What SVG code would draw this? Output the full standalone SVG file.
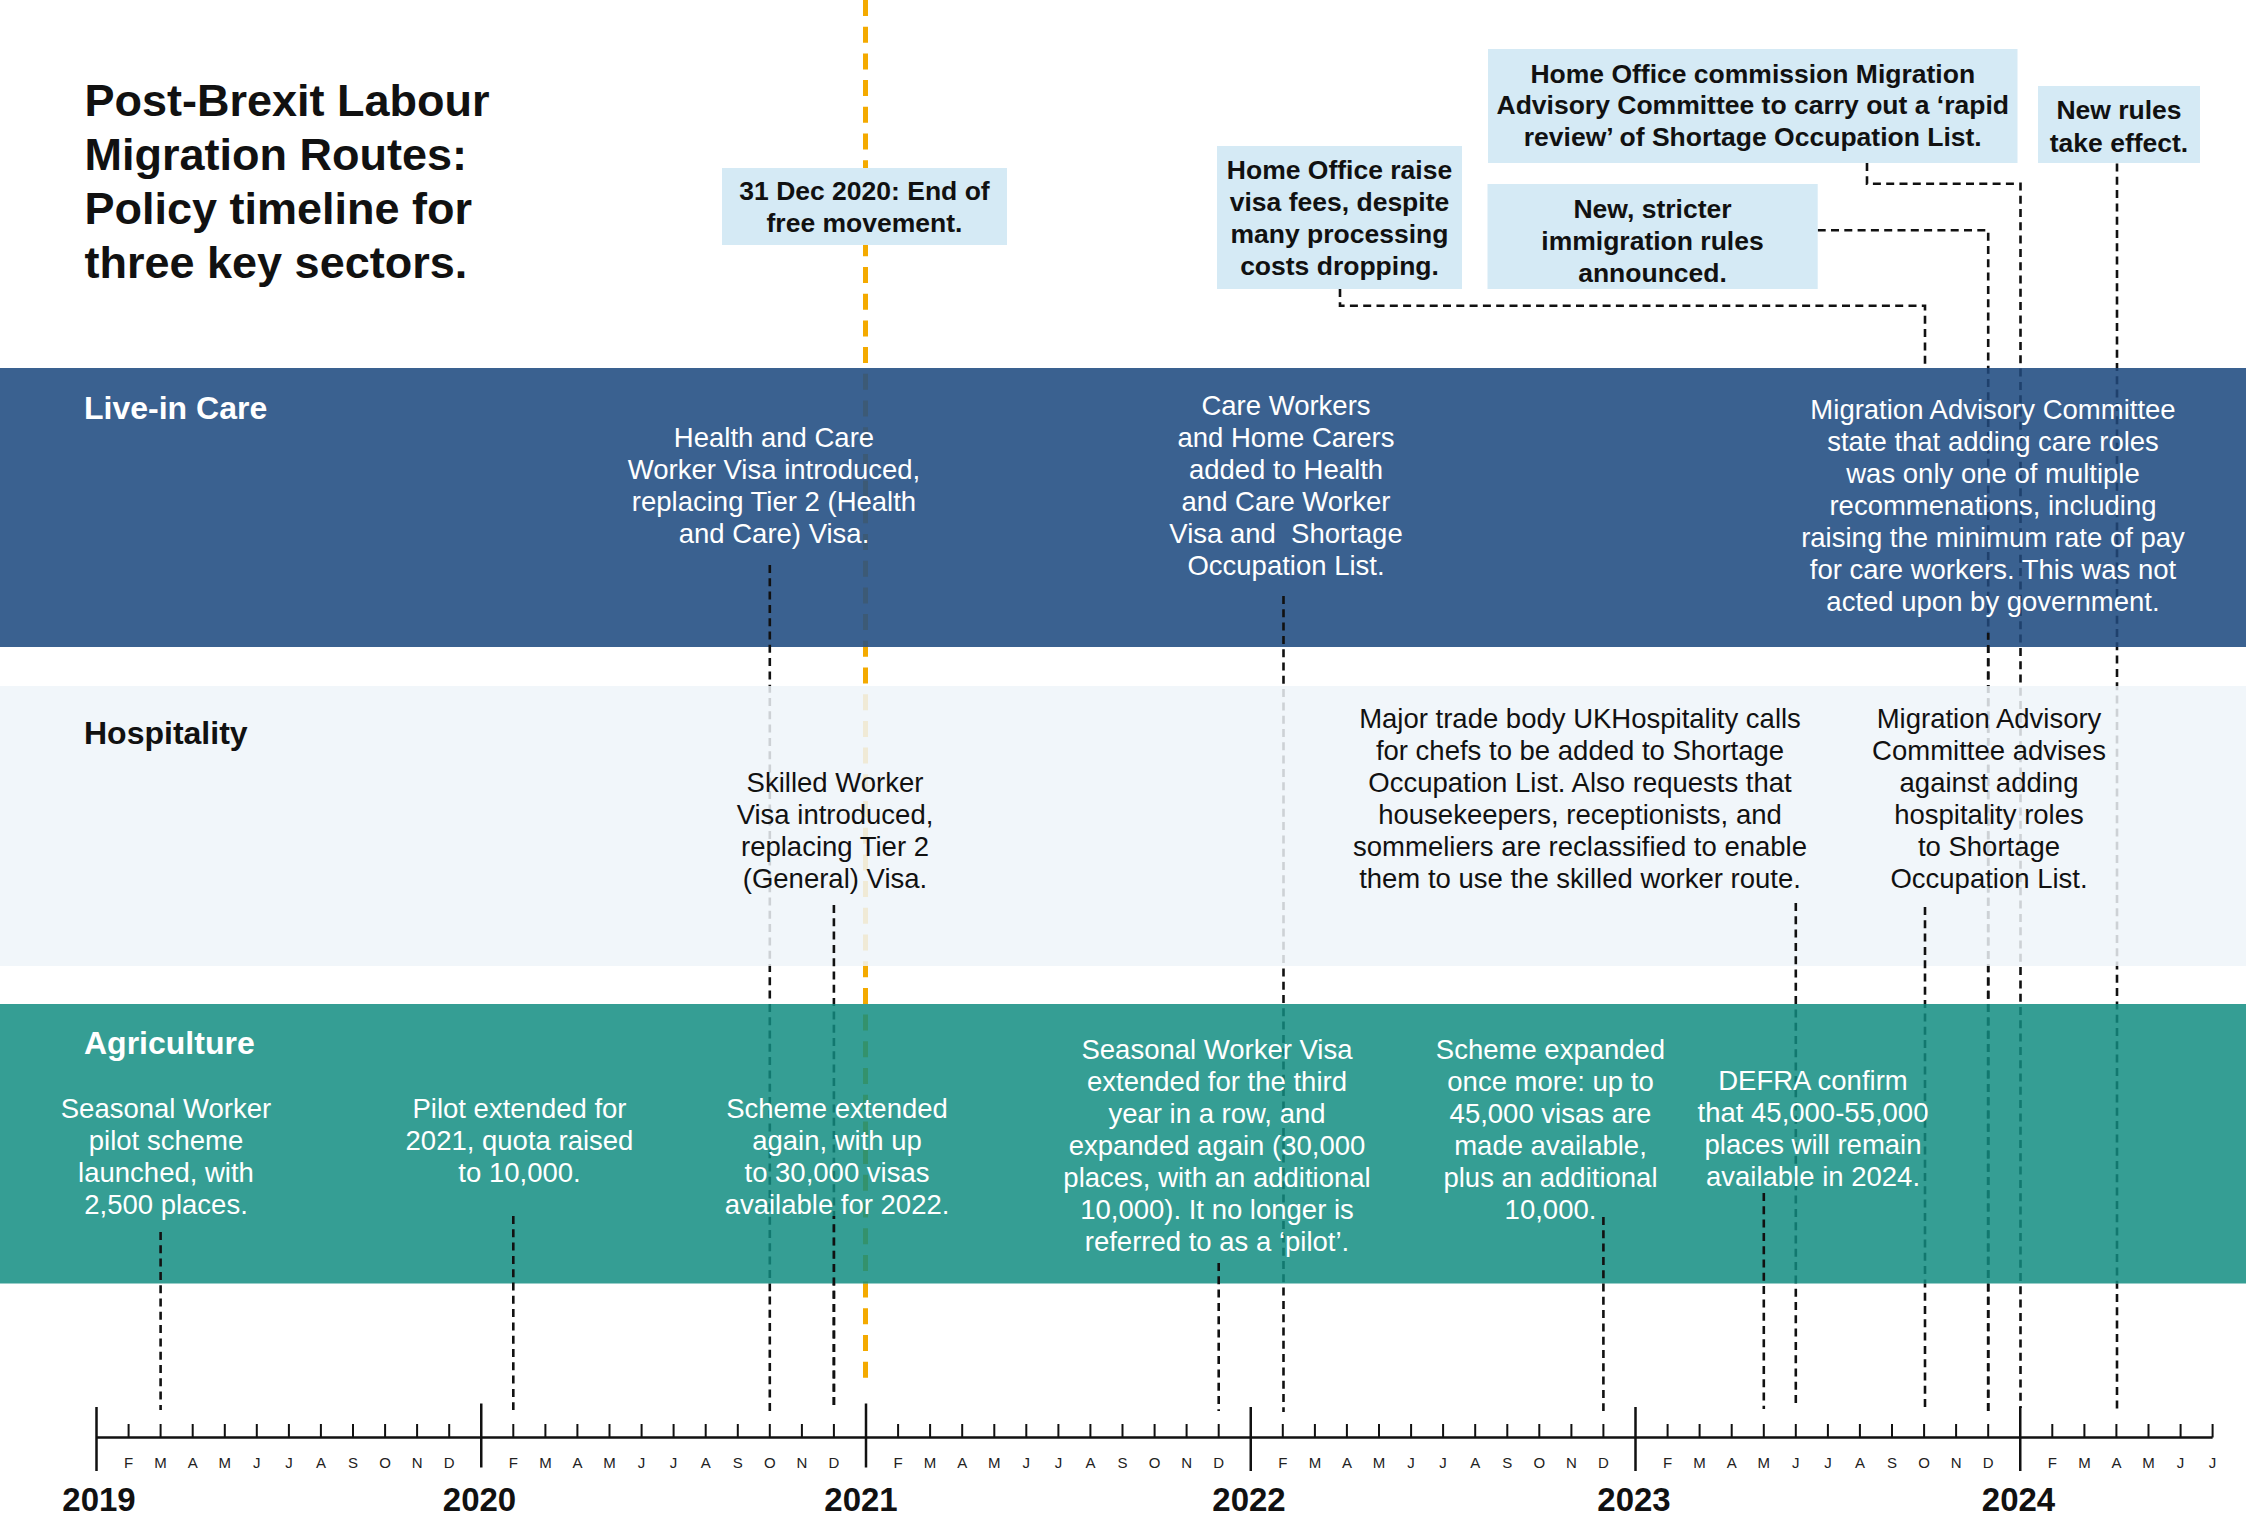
<svg xmlns="http://www.w3.org/2000/svg" width="2246" height="1518" viewBox="0 0 2246 1518">
  <defs>
    <style>
      text { font-family: "Liberation Sans", Arial, sans-serif; }
      .title { font-size: 45px; font-weight: 700; fill: #111; }
      .lane-label { font-size: 32px; font-weight: 700; }
      .ev { font-size: 27.5px; text-anchor: middle; }
      .on-dark { fill: #fff; }
      .on-light { fill: #111; }
      .box { fill: #D5EAF5; }
      .box-text { font-size: 26.5px; font-weight: 700; text-anchor: middle; fill: #111; }
      .month { font-size: 15px; text-anchor: middle; fill: #222; }
      .year { font-size: 33px; font-weight: 700; text-anchor: middle; fill: #111; }
      .axis { stroke: #111; stroke-width: 2.5; fill: none; }
      .tick { stroke: #111; stroke-width: 2; fill: none; }
      .ytick { stroke: #111; stroke-width: 2.5; fill: none; }
      /* dashed leader lines; shaded variants show a line running behind a lane */
      .k, .k-care, .k-hosp, .k-agri { fill: none; stroke-width: 2.6; stroke-dasharray: 8 5.3; }
      .k { stroke: #111; }
      .k-care { stroke: #1F416D; }
      .k-hosp { stroke: #CDD1D5; }
      .k-agri { stroke: #12786F; }
      .o, .o-care, .o-hosp, .o-agri { fill: none; stroke-width: 5; stroke-dasharray: 16 10.7; }
      .o { stroke: #F4AA00; }
      .o-care { stroke: #3C5A76; }
      .o-hosp { stroke: #F0EAD6; }
      .o-agri { stroke: #33926C; }
    </style>
    <!-- lane bands and the gaps between them -->
    <clipPath id="in-care"><rect x="0" y="368" width="2246" height="279"/></clipPath>
    <clipPath id="in-hosp"><rect x="0" y="686" width="2246" height="280"/></clipPath>
    <clipPath id="in-agri"><rect x="0" y="1004" width="2246" height="279.5"/></clipPath>
    <clipPath id="out">
      <rect x="0" y="0" width="2246" height="368"/>
      <rect x="0" y="647" width="2246" height="39"/>
      <rect x="0" y="966" width="2246" height="38"/>
      <rect x="0" y="1283.5" width="2246" height="234.5"/>
    </clipPath>
    <clipPath id="out-care">
      <rect x="0" y="0" width="2246" height="686"/>
      <rect x="0" y="966" width="2246" height="38"/>
      <rect x="0" y="1283.5" width="2246" height="234.5"/>
    </clipPath>
    <clipPath id="out-hosp">
      <rect x="0" y="0" width="2246" height="368"/>
      <rect x="0" y="647" width="2246" height="357"/>
      <rect x="0" y="1283.5" width="2246" height="234.5"/>
    </clipPath>
  </defs>

  <rect x="0" y="0" width="2246" height="1518" fill="#fff"/>

  <!-- sector lanes -->
  <g id="lanes">
    <g id="lane-care">
      <rect x="0" y="368" width="2246" height="279" fill="#3A6190"/>
      <text class="lane-label" x="84" y="419" fill="#fff">Live-in Care</text>
    </g>
    <g id="lane-hospitality">
      <rect x="0" y="686" width="2246" height="280" fill="#F1F6FA"/>
      <text class="lane-label" x="84" y="744" fill="#111">Hospitality</text>
    </g>
    <g id="lane-agriculture">
      <rect x="0" y="1004" width="2246" height="279.5" fill="#359E94"/>
      <text class="lane-label" x="84" y="1054" fill="#fff">Agriculture</text>
    </g>
  </g>

  <!-- time axis -->
  <g id="axis">
    <path class="axis" d="M96.5 1437.5H2212.6"/>
    <path class="ytick" d="M96.5 1407V1471M481.25 1403.5V1467.5M866 1403.5V1467.5M1250.75 1407V1471M1635.5 1407V1471M2020.25 1407V1471"/>
    <path class="tick" d="M128.6 1424V1437.5M160.6 1424V1437.5M192.7 1424V1437.5M224.8 1424V1437.5M256.8 1424V1437.5M288.9 1424V1437.5M320.9 1424V1437.5M353 1424V1437.5M385.1 1424V1437.5M417.1 1424V1437.5M449.2 1424V1437.5
      M513.3 1424V1437.5M545.4 1424V1437.5M577.4 1424V1437.5M609.5 1424V1437.5M641.6 1424V1437.5M673.6 1424V1437.5M705.7 1424V1437.5M737.8 1424V1437.5M769.8 1424V1437.5M801.9 1424V1437.5M833.9 1424V1437.5
      M898.1 1424V1437.5M930.1 1424V1437.5M962.2 1424V1437.5M994.3 1424V1437.5M1026.3 1424V1437.5M1058.4 1424V1437.5M1090.4 1424V1437.5M1122.5 1424V1437.5M1154.6 1424V1437.5M1186.6 1424V1437.5M1218.7 1424V1437.5
      M1282.8 1424V1437.5M1314.9 1424V1437.5M1346.9 1424V1437.5M1379 1424V1437.5M1411.1 1424V1437.5M1443.1 1424V1437.5M1475.2 1424V1437.5M1507.3 1424V1437.5M1539.3 1424V1437.5M1571.4 1424V1437.5M1603.4 1424V1437.5
      M1667.6 1424V1437.5M1699.6 1424V1437.5M1731.7 1424V1437.5M1763.8 1424V1437.5M1795.8 1424V1437.5M1827.9 1424V1437.5M1859.9 1424V1437.5M1892 1424V1437.5M1924.1 1424V1437.5M1956.1 1424V1437.5M1988.2 1424V1437.5
      M2052.3 1424V1437.5M2084.4 1424V1437.5M2116.4 1424V1437.5M2148.5 1424V1437.5M2180.6 1424V1437.5M2212.6 1424V1437.5"/>
    <g class="months">
      <text class="month" x="128.6" y="1468">F</text><text class="month" x="160.6" y="1468">M</text><text class="month" x="192.7" y="1468">A</text><text class="month" x="224.8" y="1468">M</text><text class="month" x="256.8" y="1468">J</text><text class="month" x="288.9" y="1468">J</text><text class="month" x="320.9" y="1468">A</text><text class="month" x="353" y="1468">S</text><text class="month" x="385.1" y="1468">O</text><text class="month" x="417.1" y="1468">N</text><text class="month" x="449.2" y="1468">D</text>
      <text class="month" x="513.3" y="1468">F</text><text class="month" x="545.4" y="1468">M</text><text class="month" x="577.4" y="1468">A</text><text class="month" x="609.5" y="1468">M</text><text class="month" x="641.6" y="1468">J</text><text class="month" x="673.6" y="1468">J</text><text class="month" x="705.7" y="1468">A</text><text class="month" x="737.8" y="1468">S</text><text class="month" x="769.8" y="1468">O</text><text class="month" x="801.9" y="1468">N</text><text class="month" x="833.9" y="1468">D</text>
      <text class="month" x="898.1" y="1468">F</text><text class="month" x="930.1" y="1468">M</text><text class="month" x="962.2" y="1468">A</text><text class="month" x="994.3" y="1468">M</text><text class="month" x="1026.3" y="1468">J</text><text class="month" x="1058.4" y="1468">J</text><text class="month" x="1090.4" y="1468">A</text><text class="month" x="1122.5" y="1468">S</text><text class="month" x="1154.6" y="1468">O</text><text class="month" x="1186.6" y="1468">N</text><text class="month" x="1218.7" y="1468">D</text>
      <text class="month" x="1282.8" y="1468">F</text><text class="month" x="1314.9" y="1468">M</text><text class="month" x="1346.9" y="1468">A</text><text class="month" x="1379" y="1468">M</text><text class="month" x="1411.1" y="1468">J</text><text class="month" x="1443.1" y="1468">J</text><text class="month" x="1475.2" y="1468">A</text><text class="month" x="1507.3" y="1468">S</text><text class="month" x="1539.3" y="1468">O</text><text class="month" x="1571.4" y="1468">N</text><text class="month" x="1603.4" y="1468">D</text>
      <text class="month" x="1667.6" y="1468">F</text><text class="month" x="1699.6" y="1468">M</text><text class="month" x="1731.7" y="1468">A</text><text class="month" x="1763.8" y="1468">M</text><text class="month" x="1795.8" y="1468">J</text><text class="month" x="1827.9" y="1468">J</text><text class="month" x="1859.9" y="1468">A</text><text class="month" x="1892" y="1468">S</text><text class="month" x="1924.1" y="1468">O</text><text class="month" x="1956.1" y="1468">N</text><text class="month" x="1988.2" y="1468">D</text>
      <text class="month" x="2052.3" y="1468">F</text><text class="month" x="2084.4" y="1468">M</text><text class="month" x="2116.4" y="1468">A</text><text class="month" x="2148.5" y="1468">M</text><text class="month" x="2180.6" y="1468">J</text><text class="month" x="2212.6" y="1468">J</text>
    </g>
    <g class="years">
      <text class="year" x="99" y="1511">2019</text>
      <text class="year" x="479.5" y="1511">2020</text>
      <text class="year" x="861" y="1511">2021</text>
      <text class="year" x="1249" y="1511">2022</text>
      <text class="year" x="1634" y="1511">2023</text>
      <text class="year" x="2018.5" y="1511">2024</text>
    </g>
  </g>

  <!-- leader lines from each event down to its month on the axis -->
  <g id="connectors">
    <g id="c-free-movement">
      <path class="o" clip-path="url(#out)" d="M865.5 0V1386"/>
      <path class="o-care" clip-path="url(#in-care)" d="M865.5 0V1386"/>
      <path class="o-hosp" clip-path="url(#in-hosp)" d="M865.5 0V1386"/>
      <path class="o-agri" clip-path="url(#in-agri)" d="M865.5 0V1386"/>
    </g>
    <g id="c-visa-fees">
      <path class="k" d="M1340 289V305.7H1925V368"/>
    </g>
    <g id="c-stricter-rules">
      <path class="k" clip-path="url(#out)" d="M1817.7 230.3H1988.2V1412"/>
      <path class="k-care" clip-path="url(#in-care)" d="M1817.7 230.3H1988.2V1412"/>
      <path class="k-hosp" clip-path="url(#in-hosp)" d="M1817.7 230.3H1988.2V1412"/>
      <path class="k-agri" clip-path="url(#in-agri)" d="M1817.7 230.3H1988.2V1412"/>
    </g>
    <g id="c-rapid-review">
      <path class="k" clip-path="url(#out)" d="M1867 163V183.7H2020.5V1408"/>
      <path class="k-care" clip-path="url(#in-care)" d="M1867 163V183.7H2020.5V1408"/>
      <path class="k-hosp" clip-path="url(#in-hosp)" d="M1867 163V183.7H2020.5V1408"/>
      <path class="k-agri" clip-path="url(#in-agri)" d="M1867 163V183.7H2020.5V1408"/>
    </g>
    <g id="c-new-rules">
      <path class="k" clip-path="url(#out)" d="M2117 163.5V1413"/>
      <path class="k-care" clip-path="url(#in-care)" d="M2117 163.5V1413"/>
      <path class="k-hosp" clip-path="url(#in-hosp)" d="M2117 163.5V1413"/>
      <path class="k-agri" clip-path="url(#in-agri)" d="M2117 163.5V1413"/>
    </g>
    <g id="c-health-care-visa">
      <path class="k" clip-path="url(#out-care)" d="M769.8 565V1412"/>
      <path class="k-hosp" clip-path="url(#in-hosp)" d="M769.8 565V1412"/>
      <path class="k-agri" clip-path="url(#in-agri)" d="M769.8 565V1412"/>
    </g>
    <g id="c-care-workers-added">
      <path class="k" clip-path="url(#out-care)" d="M1283.5 596V1412"/>
      <path class="k-hosp" clip-path="url(#in-hosp)" d="M1283.5 596V1412"/>
      <path class="k-agri" clip-path="url(#in-agri)" d="M1283.5 596V1412"/>
    </g>
    <!-- shares the Dec 2023 line; offset keeps its dashes in step -->
    <g id="c-mac-care-roles" style="stroke-dashoffset:1.3">
      <path class="k" clip-path="url(#out-care)" d="M1988.2 633V1412"/>
      <path class="k-hosp" clip-path="url(#in-hosp)" d="M1988.2 633V1412"/>
      <path class="k-agri" clip-path="url(#in-agri)" d="M1988.2 633V1412"/>
    </g>
    <g id="c-skilled-worker-visa">
      <path class="k" clip-path="url(#out-hosp)" d="M833.9 905V1410"/>
      <path class="k-agri" clip-path="url(#in-agri)" d="M833.9 905V1410"/>
    </g>
    <g id="c-ukhospitality">
      <path class="k" clip-path="url(#out-hosp)" d="M1795.8 903V1406"/>
      <path class="k-agri" clip-path="url(#in-agri)" d="M1795.8 903V1406"/>
    </g>
    <g id="c-mac-hospitality">
      <path class="k" clip-path="url(#out-hosp)" d="M1925 907V1411"/>
      <path class="k-agri" clip-path="url(#in-agri)" d="M1925 907V1411"/>
    </g>
    <path id="c-pilot-launch" class="k" d="M160.6 1232V1410"/>
    <path id="c-pilot-extended" class="k" d="M513.3 1216V1410"/>
    <!-- shares the Dec 2020 line; offset keeps its dashes in step -->
    <path id="c-scheme-2022" class="k" style="stroke-dashoffset:5.1" d="M833.9 1216V1410"/>
    <path id="c-third-year" class="k" d="M1218.7 1263V1411"/>
    <path id="c-scheme-2023" class="k" d="M1603.4 1217V1411"/>
    <path id="c-defra" class="k" d="M1763.8 1193V1409"/>
  </g>

  <!-- heading -->
  <g id="title">
    <text class="title"><tspan x="84.5" y="116">Post-Brexit Labour</tspan><tspan x="84.5" y="170">Migration Routes:</tspan><tspan x="84.5" y="224">Policy timeline for</tspan><tspan x="84.5" y="278">three key sectors.</tspan></text>
  </g>

  <!-- general policy milestones -->
  <g id="free-movement-ends">
    <rect class="box" x="722" y="168" width="285" height="77"/>
    <text class="box-text"><tspan x="864.5" y="200">31 Dec 2020: End of</tspan><tspan x="864.5" y="232">free movement.</tspan></text>
  </g>
  <g id="visa-fees-raised">
    <rect class="box" x="1217" y="146" width="245" height="143"/>
    <text class="box-text"><tspan x="1339.5" y="179">Home Office raise</tspan><tspan x="1339.5" y="211">visa fees, despite</tspan><tspan x="1339.5" y="243">many processing</tspan><tspan x="1339.5" y="275">costs dropping.</tspan></text>
  </g>
  <g id="rapid-review">
    <rect class="box" x="1488" y="49" width="529.5" height="114"/>
    <text class="box-text"><tspan x="1752.75" y="82.7">Home Office commission Migration</tspan><tspan x="1752.75" y="114.3">Advisory Committee to carry out a ‘rapid</tspan><tspan x="1752.75" y="146">review’ of Shortage Occupation List.</tspan></text>
  </g>
  <g id="stricter-rules">
    <rect class="box" x="1487.5" y="184" width="330.2" height="105"/>
    <text class="box-text"><tspan x="1652.5" y="218.3">New, stricter</tspan><tspan x="1652.5" y="250">immigration rules</tspan><tspan x="1652.5" y="281.7">announced.</tspan></text>
  </g>
  <g id="new-rules">
    <rect class="box" x="2038" y="86" width="162" height="77"/>
    <text class="box-text"><tspan x="2119" y="119.3">New rules</tspan><tspan x="2119" y="151.5">take effect.</tspan></text>
  </g>

  <!-- Live-in Care events -->
  <g id="health-care-visa">
    <text class="ev on-dark"><tspan x="774" y="446.5">Health and Care</tspan><tspan x="774" y="478.5">Worker Visa introduced,</tspan><tspan x="774" y="510.5">replacing Tier 2 (Health</tspan><tspan x="774" y="542.5">and Care) Visa.</tspan></text>
  </g>
  <g id="care-workers-added">
    <text class="ev on-dark"><tspan x="1286" y="414.5">Care Workers</tspan><tspan x="1286" y="446.5">and Home Carers</tspan><tspan x="1286" y="478.5">added to Health</tspan><tspan x="1286" y="510.5">and Care Worker</tspan><tspan x="1286" y="542.5" xml:space="preserve">Visa and  Shortage</tspan><tspan x="1286" y="574.5">Occupation List.</tspan></text>
  </g>
  <g id="mac-care-roles">
    <text class="ev on-dark"><tspan x="1993" y="418.5">Migration Advisory Committee</tspan><tspan x="1993" y="450.5">state that adding care roles</tspan><tspan x="1993" y="482.5">was only one of multiple</tspan><tspan x="1993" y="514.5">recommenations, including</tspan><tspan x="1993" y="546.5">raising the minimum rate of pay</tspan><tspan x="1993" y="578.5">for care workers. This was not</tspan><tspan x="1993" y="610.5">acted upon by government.</tspan></text>
  </g>

  <!-- Hospitality events -->
  <g id="skilled-worker-visa">
    <text class="ev on-light"><tspan x="835" y="791.5">Skilled Worker</tspan><tspan x="835" y="823.5">Visa introduced,</tspan><tspan x="835" y="855.5">replacing Tier 2</tspan><tspan x="835" y="887.5">(General) Visa.</tspan></text>
  </g>
  <g id="ukhospitality">
    <text class="ev on-light"><tspan x="1580" y="727.5">Major trade body UKHospitality calls</tspan><tspan x="1580" y="759.5">for chefs to be added to Shortage</tspan><tspan x="1580" y="791.5">Occupation List. Also requests that</tspan><tspan x="1580" y="823.5">housekeepers, receptionists, and</tspan><tspan x="1580" y="855.5">sommeliers are reclassified to enable</tspan><tspan x="1580" y="887.5">them to use the skilled worker route.</tspan></text>
  </g>
  <g id="mac-hospitality">
    <text class="ev on-light"><tspan x="1989" y="727.5">Migration Advisory</tspan><tspan x="1989" y="759.5">Committee advises</tspan><tspan x="1989" y="791.5">against adding</tspan><tspan x="1989" y="823.5">hospitality roles</tspan><tspan x="1989" y="855.5">to Shortage</tspan><tspan x="1989" y="887.5">Occupation List.</tspan></text>
  </g>

  <!-- Agriculture events -->
  <g id="pilot-launch">
    <text class="ev on-dark"><tspan x="166" y="1118">Seasonal Worker</tspan><tspan x="166" y="1150">pilot scheme</tspan><tspan x="166" y="1182">launched, with</tspan><tspan x="166" y="1214">2,500 places.</tspan></text>
  </g>
  <g id="pilot-extended">
    <text class="ev on-dark"><tspan x="519.5" y="1118">Pilot extended for</tspan><tspan x="519.5" y="1150">2021, quota raised</tspan><tspan x="519.5" y="1182">to 10,000.</tspan></text>
  </g>
  <g id="scheme-2022">
    <text class="ev on-dark"><tspan x="837" y="1118">Scheme extended</tspan><tspan x="837" y="1150">again, with up</tspan><tspan x="837" y="1182">to 30,000 visas</tspan><tspan x="837" y="1214">available for 2022.</tspan></text>
  </g>
  <g id="third-year">
    <text class="ev on-dark"><tspan x="1217" y="1059">Seasonal Worker Visa</tspan><tspan x="1217" y="1091">extended for the third</tspan><tspan x="1217" y="1123">year in a row, and</tspan><tspan x="1217" y="1155">expanded again (30,000</tspan><tspan x="1217" y="1187">places, with an additional</tspan><tspan x="1217" y="1219">10,000). It no longer is</tspan><tspan x="1217" y="1251">referred to as a ‘pilot’.</tspan></text>
  </g>
  <g id="scheme-2023">
    <text class="ev on-dark"><tspan x="1550.5" y="1059">Scheme expanded</tspan><tspan x="1550.5" y="1091">once more: up to</tspan><tspan x="1550.5" y="1123">45,000 visas are</tspan><tspan x="1550.5" y="1155">made available,</tspan><tspan x="1550.5" y="1187">plus an additional</tspan><tspan x="1550.5" y="1219">10,000.</tspan></text>
  </g>
  <g id="defra-2024">
    <text class="ev on-dark"><tspan x="1813" y="1089.5">DEFRA confirm</tspan><tspan x="1813" y="1121.5">that 45,000-55,000</tspan><tspan x="1813" y="1153.5">places will remain</tspan><tspan x="1813" y="1185.5">available in 2024.</tspan></text>
  </g>
</svg>
